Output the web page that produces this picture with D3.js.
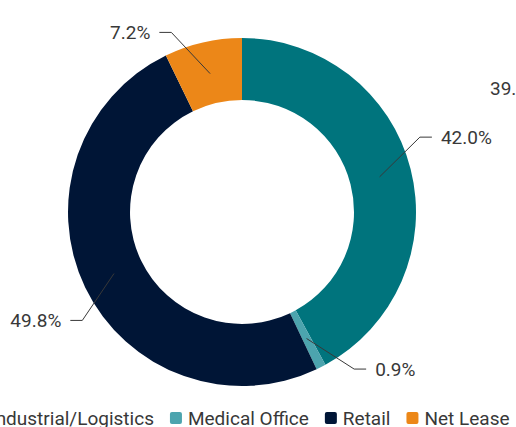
<!DOCTYPE html>
<html><head><meta charset="utf-8">
<script src="https://cdn.jsdelivr.net/npm/d3@7"></script>
<style>html,body{margin:0;padding:0;background:#fff;overflow:hidden}svg{display:block}text{font-family:Roboto,"Noto Sans",sans-serif;fill:#383838}</style>
</head><body>
<svg id="c" width="516" height="427"></svg>
<script>
const categories = ["Industrial/Logistics", "Medical Office", "Retail", "Net Lease"];
const values = [42.0, 0.9, 49.8, 7.2];
const colors = ["#00747D", "#4CA4AE", "#001536", "#EC8718"];
const labels = ["42.0%", "0.9%", "49.8%", "7.2%"];
const sideLabel = "39.1%";

const W = 516, H = 427, cx = 242, cy = 212, rOut = 174, rIn = 112;
const svg = d3.select("#c");
const g = svg.append("g").attr("transform", `translate(${cx},${cy})`);

const data = categories.map((c, i) => ({cat: c, value: values[i], color: colors[i], label: labels[i]}));
const pie = d3.pie().sort(null).value(d => d.value);
const arcs = pie(data);
const arc = d3.arc().innerRadius(rIn).outerRadius(rOut);
g.selectAll("path.slice").data(arcs).join("path").attr("class", "slice")
  .attr("d", arc).attr("fill", d => d.data.color);

// leader lines + labels
const startR = 142, elbowR = 193, offs = -8.5 * Math.PI / 180, hLen = 12, gap = 9;
const pol = (a, r) => [r * Math.sin(a), -r * Math.cos(a)];
arcs.forEach(a => {
  const mid = (a.startAngle + a.endAngle) / 2;
  const p0 = pol(mid, startR);
  const p1 = pol(mid + offs, elbowR);
  const right = Math.sin(mid) >= 0;
  const p2 = [p1[0] + (right ? hLen : -hLen), p1[1]];
  g.append("path").attr("d", d3.line()([p0, p1, p2]))
    .attr("fill", "none").attr("stroke", "#383838").attr("stroke-width", 1);
  g.append("text").attr("x", p2[0] + (right ? gap : -gap)).attr("y", p2[1])
    .attr("dy", "0.35em").attr("text-anchor", right ? "start" : "end")
    .attr("font-size", 19).text(a.data.label);
});

// partially visible label of neighbouring chart
svg.append("text").attr("x", 490).attr("y", 88).attr("dy", "0.35em")
  .attr("font-size", 19).text(sideLabel);

// legend
const lg = svg.append("g");
const sq = 12, sGap = 6, iGap = 16, ly = 418;
let x = 0;
data.forEach(d => {
  const it = lg.append("g");
  it.append("rect").attr("width", sq).attr("height", sq).attr("rx", 2)
    .attr("y", ly - sq / 2).attr("fill", d.color);
  const t = it.append("text").attr("x", sq + sGap).attr("y", ly).attr("dy", "0.35em")
    .attr("font-size", 19).text(d.cat);
  const w = sq + sGap + t.node().getComputedTextLength();
  it.attr("transform", `translate(${x},0)`);
  x += w + iGap;
});
const total = x - iGap;
lg.attr("transform", `translate(${241 - total / 2},0)`);
</script>
</body></html>
